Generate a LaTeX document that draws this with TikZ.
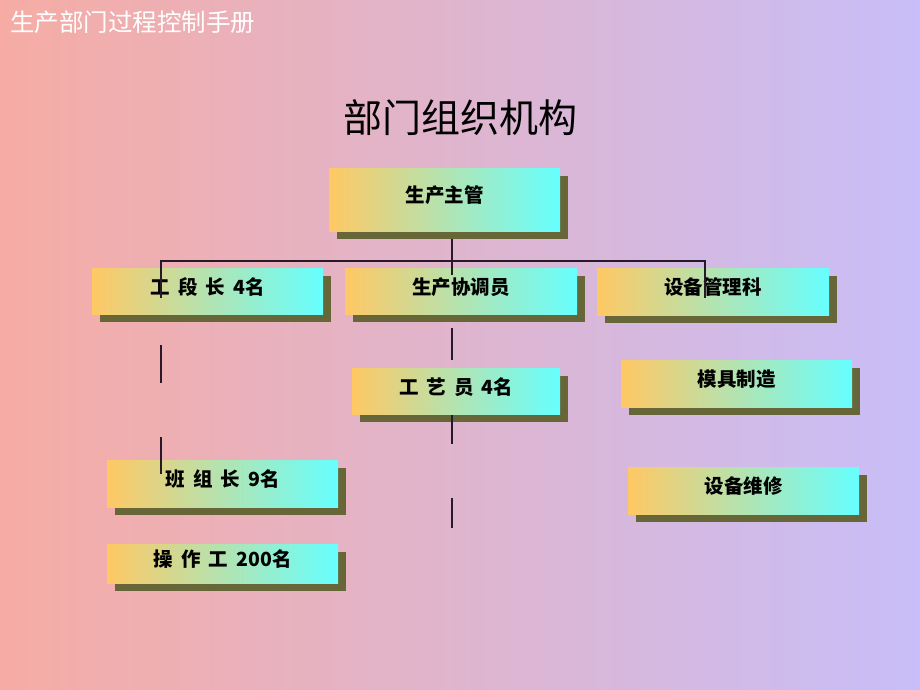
\documentclass[tikz,border=0pt]{standalone}
\usepackage{fontspec}
\setmainfont{Noto Sans CJK SC}
\usetikzlibrary{shadows,calc}
\definecolor{bgL}{RGB}{246,172,164}
\definecolor{bgR}{RGB}{200,190,248}
\definecolor{bxL}{RGB}{255,200,100}
\definecolor{bxR}{RGB}{102,255,255}
\definecolor{shd}{RGB}{102,102,56}
\definecolor{ln}{RGB}{40,25,40}
\newcommand{\gp}{\hspace{8pt}}
\begin{document}
\begin{tikzpicture}[x=1pt,y=-1pt,
  orgbox/.style={anchor=north west, left color=bxL, right color=bxR, inner sep=0pt,
    font=\bfseries\fontsize{19.5}{19.5}\selectfont, text height=16pt, text depth=10pt,
    drop shadow={shadow xshift=7.5pt, shadow yshift=-8pt, fill=shd, opacity=1}},
  link/.style={draw=ln, line width=1.2pt}]
\shade[left color=bgL, right color=bgR] (0,0) rectangle (920,690);
\useasboundingbox (0,0) rectangle (920,690);
\node[anchor=west, inner sep=0pt, text=white, font=\fontsize{24.5}{25}\selectfont] (hdr) at (10,22) {生产部门过程控制手册};
\node[inner sep=0pt, font=\fontsize{39}{40}\selectfont] (title) at (460,118) {部门组织机构};
% boxes
\node[orgbox, minimum width=231pt, minimum height=63pt] (zg) at (329,168) {生产主管};
\node[orgbox, minimum width=231pt, minimum height=46pt] (gdz) at (92,268) {工\gp 段\gp 长\gp 4名};
\node[orgbox, minimum width=232pt, minimum height=46pt] (xty) at (345,268) {生产协调员};
\node[orgbox, minimum width=232pt, minimum height=47pt] (sbg) at (597,268) {设备管理科};
\node[orgbox, minimum width=208pt, minimum height=46pt] (gyy) at (352,368) {工\gp 艺\gp 员\gp 4名};
\node[orgbox, minimum width=231pt, minimum height=47pt] (mj) at (621,360) {模具制造};
\node[orgbox, minimum width=231pt, minimum height=47pt] (bzz) at (107,460) {班\gp 组\gp 长\gp 9名};
\node[orgbox, minimum width=231pt, minimum height=47pt] (wx) at (628,467) {设备维修};
\node[orgbox, minimum width=231pt, minimum height=39pt] (czg) at (107,544) {操\gp 作\gp 工\gp 200名};
% connector coordinates
\coordinate (zgb) at (452,239);
\coordinate (mid) at (452,261);
\coordinate (hl) at (161,261);
\coordinate (hr) at (705,261);
\coordinate (xtyin) at (452,275);
\coordinate (gdzin) at (161,298);
\coordinate (sbgin) at (705,298);
\coordinate (a1) at (161,345); \coordinate (a2) at (161,383);
\coordinate (b1) at (161,437); \coordinate (b2) at (161,474);
\coordinate (c1) at (452,328); \coordinate (c2) at (452,360);
\coordinate (d1) at (452,415); \coordinate (d2) at (452,444);
\coordinate (e1) at (452,498); \coordinate (e2) at (452,528);
\draw[link] (zgb) -- (xtyin);
\draw[link] (gdzin) -- (hl) -- (hr) -- (sbgin);
\draw[link] (a1) -- (a2);
\draw[link] (b1) -- (b2);
\draw[link] (c1) -- (c2);
\draw[link] (d1) -- (d2);
\draw[link] (e1) -- (e2);
\end{tikzpicture}
\end{document}
